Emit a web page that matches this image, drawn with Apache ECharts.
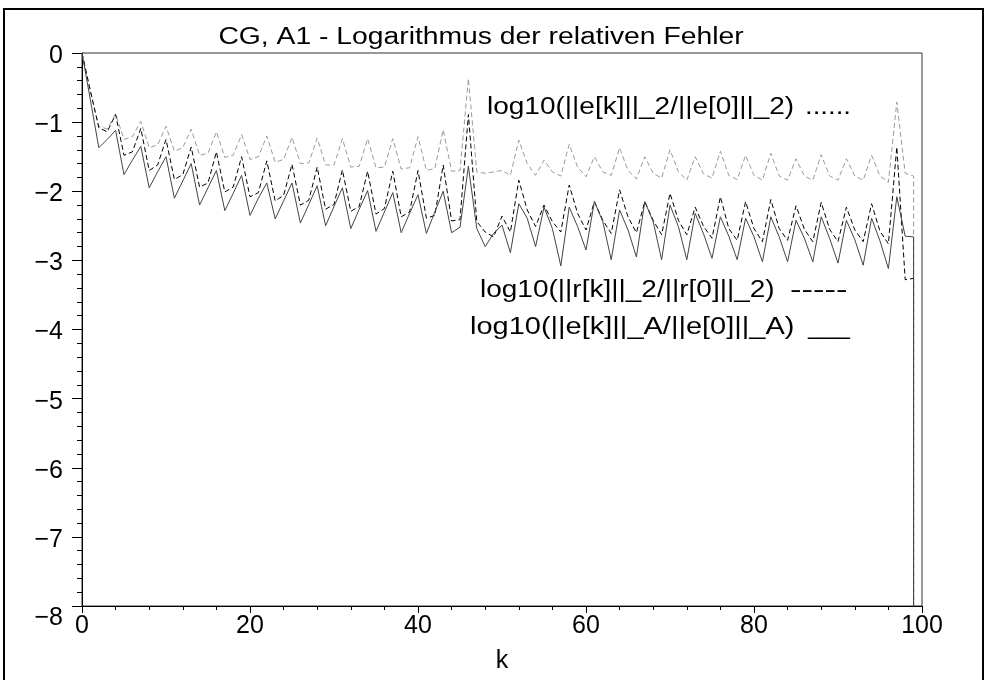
<!DOCTYPE html>
<html>
<head>
<meta charset="utf-8">
<script src="https://cdn.jsdelivr.net/npm/echarts@6/dist/echarts.min.js"></script>
<style>
html,body{margin:0;padding:0;background:#fff;}
#chart{width:987px;height:680px;}
</style>
</head>
<body>
<div id="chart"></div>
<script>
// ---- data ----
const titleText = 'CG, A1 - Logarithmus der relativen Fehler';
const xName = 'k';
const legendE2 = ['log10(||e[k]||_2/||e[0]||_2)', '......'];
const legendR2 = ['log10(||r[k]||_2/||r[0]||_2)', '-----'];
const legendEA = ['log10(||e[k]||_A/||e[0]||_A)', '____'];

// iteration index k = 0..99, last entry repeated for final collapse
const kValues = [
  0,1,2,3,4,5,6,7,8,9,10,11,12,13,14,15,16,17,18,19,
  20,21,22,23,24,25,26,27,28,29,30,31,32,33,34,35,36,37,38,39,
  40,41,42,43,44,45,46,47,48,49,50,51,52,53,54,55,56,57,58,59,
  60,61,62,63,64,65,66,67,68,69,70,71,72,73,74,75,76,77,78,79,
  80,81,82,83,84,85,86,87,88,89,90,91,92,93,94,95,96,97,98,99,99
];

const errE2 = [
  0,-0.55,-1.06,-1.10,-0.88,-1.25,-1.21,-0.99,-1.37,-1.33,
  -1.06,-1.42,-1.37,-1.10,-1.48,-1.45,-1.14,-1.51,-1.48,-1.18,
  -1.54,-1.50,-1.20,-1.58,-1.54,-1.22,-1.60,-1.59,-1.23,-1.62,
  -1.62,-1.24,-1.65,-1.64,-1.24,-1.66,-1.65,-1.24,-1.68,-1.66,
  -1.21,-1.70,-1.67,-1.11,-1.71,-1.70,-0.37,-1.72,-1.74,-1.72,
  -1.70,-1.77,-1.26,-1.60,-1.77,-1.55,-1.72,-1.78,-1.32,-1.65,
  -1.79,-1.50,-1.72,-1.77,-1.37,-1.70,-1.82,-1.50,-1.74,-1.81,
  -1.40,-1.72,-1.84,-1.50,-1.75,-1.81,-1.42,-1.77,-1.83,-1.48,
  -1.77,-1.84,-1.45,-1.78,-1.84,-1.53,-1.78,-1.84,-1.47,-1.78,
  -1.84,-1.53,-1.78,-1.84,-1.48,-1.78,-1.87,-0.71,-1.74,-1.78,
  -16
];

const resR2 = [
  0,-0.55,-1.08,-1.14,-0.89,-1.48,-1.43,-1.09,-1.70,-1.62,
  -1.25,-1.83,-1.76,-1.36,-1.94,-1.88,-1.43,-2.01,-1.94,-1.50,
  -2.08,-2.02,-1.56,-2.14,-2.06,-1.61,-2.20,-2.13,-1.65,-2.26,
  -2.19,-1.69,-2.29,-2.22,-1.71,-2.33,-2.25,-1.71,-2.37,-2.30,
  -1.70,-2.39,-2.35,-1.62,-2.43,-2.41,-0.89,-2.44,-2.59,-2.66,
  -2.36,-2.59,-1.84,-2.27,-2.51,-2.20,-2.44,-2.59,-1.91,-2.32,
  -2.56,-2.15,-2.42,-2.61,-1.98,-2.37,-2.60,-2.15,-2.42,-2.63,
  -2.03,-2.42,-2.63,-2.23,-2.51,-2.68,-2.08,-2.54,-2.71,-2.15,
  -2.54,-2.73,-2.12,-2.54,-2.71,-2.21,-2.55,-2.73,-2.16,-2.55,
  -2.73,-2.23,-2.56,-2.73,-2.18,-2.58,-2.76,-1.36,-3.28,-3.26,
  -16
];

const errEA = [
  0,-0.68,-1.37,-1.25,-1.12,-1.76,-1.55,-1.35,-1.95,-1.72,
  -1.50,-2.10,-1.85,-1.60,-2.20,-1.95,-1.70,-2.28,-2.03,-1.77,
  -2.35,-2.10,-1.88,-2.40,-2.14,-1.88,-2.46,-2.19,-1.92,-2.50,
  -2.22,-1.95,-2.54,-2.26,-1.99,-2.58,-2.30,-2.02,-2.60,-2.32,
  -2.05,-2.61,-2.30,-2.00,-2.60,-2.52,-1.64,-2.54,-2.80,-2.61,
  -2.49,-2.89,-2.18,-2.39,-2.80,-2.23,-2.54,-3.08,-2.23,-2.51,
  -2.85,-2.15,-2.44,-2.99,-2.27,-2.56,-2.95,-2.15,-2.44,-2.99,
  -2.20,-2.51,-2.99,-2.32,-2.62,-2.97,-2.37,-2.65,-2.99,-2.39,
  -2.66,-3.02,-2.37,-2.66,-3.02,-2.42,-2.68,-3.02,-2.37,-2.68,
  -3.04,-2.42,-2.70,-3.07,-2.39,-2.72,-3.12,-2.08,-2.65,-2.66,
  -16
];

const xTicks = [0, 20, 40, 60, 80, 100];
const yTicks = [0, -1, -2, -3, -4, -5, -6, -7, -8];

// ---- chart ----
const FONT = '"Liberation Sans", Arial, Helvetica, sans-serif';
const pairs = (ys) => kValues.map((k, i) => [k, ys[i]]);
const minus = (v) => (v < 0 ? '\u2212' + Math.abs(v) : String(v));

const chart = echarts.init(document.getElementById('chart'), null, { renderer: 'canvas' });

function legendText(parts, x, xMark, y, textScale, markScale) {
  return [
    {
      type: 'text', x: x, y: y, scaleX: textScale,
      style: { text: parts[0], font: '23px ' + FONT, fill: '#000', align: 'left', verticalAlign: 'middle' }
    },
    {
      type: 'text', x: xMark, y: y, scaleX: markScale,
      style: { text: parts[1], font: '23px ' + FONT, fill: '#000', align: 'left', verticalAlign: 'middle' }
    }
  ];
}

chart.setOption({
  animation: false,
  backgroundColor: '#ffffff',
  grid: {
    left: 82, top: 53, right: 65, bottom: 74,
    show: true, borderColor: '#333', borderWidth: 1, backgroundColor: 'transparent'
  },
  xAxis: {
    type: 'value',
    min: xTicks[0], max: xTicks[xTicks.length - 1], interval: xTicks[1] - xTicks[0],
    name: xName, nameLocation: 'middle', nameGap: 43,
    nameTextStyle: { fontSize: 25, fontFamily: FONT, color: '#000' },
    axisLine: { show: true, onZero: false, lineStyle: { color: '#000', width: 1 } },
    axisTick: { show: true, inside: false, length: 7, lineStyle: { color: '#000' } },
    minorTick: { show: true, splitNumber: 5, length: 4, lineStyle: { color: '#000' } },
    splitLine: { show: false },
    axisLabel: { fontSize: 25, fontFamily: FONT, color: '#000', margin: 8 }
  },
  yAxis: {
    type: 'value',
    min: yTicks[yTicks.length - 1], max: yTicks[0], interval: 1,
    axisLine: { show: true, onZero: false, lineStyle: { color: '#000', width: 1 } },
    axisTick: { show: true, inside: false, length: 10, lineStyle: { color: '#000' } },
    minorTick: { show: true, splitNumber: 5, length: 5, lineStyle: { color: '#000' } },
    splitLine: { show: false },
    axisLabel: {
      fontSize: 25, fontFamily: FONT, color: '#000', margin: 19, padding: [6, 0, 0, 0],
      formatter: (v) => (v === yTicks[yTicks.length - 1] ? '{low|' + minus(v) + '}' : minus(v)),
      rich: { low: { fontSize: 25, fontFamily: FONT, color: '#000', padding: [18, 0, 0, 0] } }
    }
  },
  series: [
    {
      name: 'e2', type: 'line', data: pairs(errE2), showSymbol: false, symbol: 'none',
      lineStyle: { color: '#9a9a9a', width: 1, type: [5, 3] }, z: 2
    },
    {
      name: 'r2', type: 'line', data: pairs(resR2), showSymbol: false, symbol: 'none',
      lineStyle: { color: '#000000', width: 1, type: [5, 3] }, z: 3
    },
    {
      name: 'eA', type: 'line', data: pairs(errEA), showSymbol: false, symbol: 'none',
      lineStyle: { color: '#444444', width: 1, type: 'solid' }, z: 4
    }
  ],
  graphic: [
    {
      type: 'rect', shape: { x: 4, y: 9, width: 979, height: 690 },
      style: { fill: 'none', stroke: '#000', lineWidth: 2 }, silent: true
    },
    {
      type: 'text', x: 481, y: 38, scaleX: 1.23,
      style: { text: titleText, font: '23px ' + FONT, fill: '#000', align: 'center', verticalAlign: 'middle' }
    }
  ]
    .concat(legendText(legendE2, 487, 805, 108, 1.217, 1.2))
    .concat(legendText(legendR2, 480, 790, 291, 1.217, 1.5))
    .concat(legendText(legendEA, 470, 808, 328, 1.26, 0.82))
});
</script>
</body>
</html>
